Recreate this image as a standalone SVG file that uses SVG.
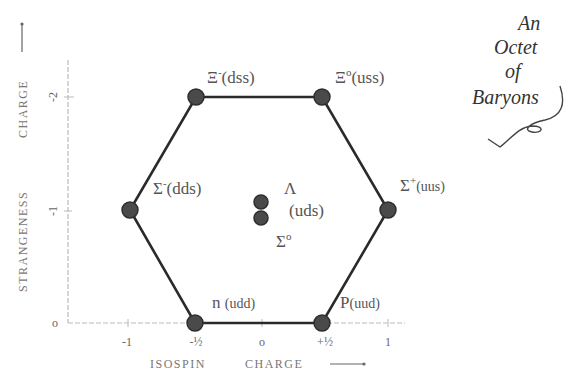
<svg xmlns="http://www.w3.org/2000/svg" width="583" height="377" viewBox="0 0 583 377">
<style>
.edge{stroke:#2a2a2a;stroke-width:2.6;fill:none}
.axis{stroke:#bbb;stroke-width:1.2;fill:none;stroke-dasharray:5 2}
.node{fill:#4a4a4a;stroke:#2e2e2e;stroke-width:1.5}
.lbl{font-family:"Liberation Serif",serif;font-size:17px;fill:#555}
.sm{font-family:"Liberation Serif",serif;font-size:12px;fill:#666}
.ax{font-family:"Liberation Serif",serif;font-size:12px;fill:#777;letter-spacing:1.5px}
.title{font-family:"Liberation Serif",serif;font-style:italic;font-size:20px;fill:#333}
</style>
<rect width="583" height="377" fill="#fff"/>
<g id="axes">
<line class="axis" x1="68" y1="60" x2="68" y2="323"/>
<line class="axis" x1="68" y1="323" x2="405" y2="323"/>
<line x1="64" y1="97" x2="74" y2="97" stroke="#bbb"/>
<line x1="64" y1="211" x2="72" y2="211" stroke="#bbb"/>
<line x1="128" y1="319" x2="128" y2="327" stroke="#bbb"/>
<line x1="262" y1="319" x2="262" y2="327" stroke="#bbb"/>
<line x1="388" y1="319" x2="388" y2="327" stroke="#bbb"/>
<text class="sm" transform="translate(57,97) rotate(-90)" text-anchor="middle">-2</text>
<text class="sm" transform="translate(57,211) rotate(-90)" text-anchor="middle">-1</text>
<text class="sm" x="55" y="327" text-anchor="middle">o</text>
<text class="sm" x="127" y="346" text-anchor="middle">-1</text>
<text class="sm" x="196" y="346" text-anchor="middle">-½</text>
<text class="sm" x="262" y="346" text-anchor="middle">o</text>
<text class="sm" x="325" y="346" text-anchor="middle">+½</text>
<text class="sm" x="388" y="346" text-anchor="middle">1</text>
<text class="ax" x="150" y="368">ISOSPIN</text>
<text class="ax" x="245" y="368">CHARGE</text>
<line x1="330" y1="364" x2="364" y2="364" stroke="#666" stroke-width="1.2"/>
<circle cx="364" cy="364" r="1.6" fill="#666"/>
<text class="ax" transform="translate(27,292) rotate(-90)">STRANGENESS</text>
<text class="ax" transform="translate(27,138) rotate(-90)">CHARGE</text>
<line x1="22" y1="52" x2="22" y2="24" stroke="#666" stroke-width="1.2"/>
<circle cx="22" cy="24" r="1.6" fill="#666"/>
</g>
<g id="connectors">
<polygon class="edge" points="196,97 322,97 388,210 322,323 195,323 130,210"/>
</g>
<g id="xi-minus"><circle class="node" cx="196" cy="97" r="8"/><text class="lbl" x="207" y="83">Ξ<tspan font-size="11" dy="-7">-</tspan><tspan dy="7">(dss)</tspan></text></g>
<g id="xi-zero"><circle class="node" cx="322" cy="97" r="8"/><text class="lbl" x="335" y="83">Ξ<tspan font-size="11" dy="-7">o</tspan><tspan dy="7">(uss)</tspan></text></g>
<g id="sigma-minus"><circle class="node" cx="130" cy="210" r="8"/><text class="lbl" x="153" y="194">Σ<tspan font-size="11" dy="-7">-</tspan><tspan dy="7">(dds)</tspan></text></g>
<g id="sigma-plus"><circle class="node" cx="388" cy="210" r="8"/><text class="lbl" x="400" y="191">Σ<tspan font-size="11" dy="-7">+</tspan><tspan dy="7" font-size="14">(uus)</tspan></text></g>
<g id="lambda-sigma0">
<circle class="node" cx="261" cy="202" r="7"/>
<circle class="node" cx="261" cy="218" r="7"/>
<text class="lbl" x="284" y="194">Λ</text>
<text class="lbl" x="289" y="216">(uds)</text>
<text class="lbl" x="276" y="247">Σ<tspan font-size="11" dy="-7">o</tspan></text>
</g>
<g id="neutron"><circle class="node" cx="195" cy="323" r="8"/><text class="lbl" x="212" y="308">n <tspan font-size="14">(udd)</tspan></text></g>
<g id="proton"><circle class="node" cx="322" cy="323" r="8"/><text class="lbl" x="340" y="308">P<tspan font-size="14">(uud)</tspan></text></g>
<g id="title">
<text class="title" x="518" y="30" font-size="16">An</text>
<text class="title" x="494" y="54">Octet</text>
<text class="title" x="505" y="78">of</text>
<text class="title" x="472" y="104">Baryons</text>
<path d="M560,86 C566,104 562,116 545,120 C530,123 522,130 532,132 C542,134 546,126 532,126 C518,127 510,140 500,147 L488,139" stroke="#444" stroke-width="1.4" fill="none"/>
</g>
</svg>
